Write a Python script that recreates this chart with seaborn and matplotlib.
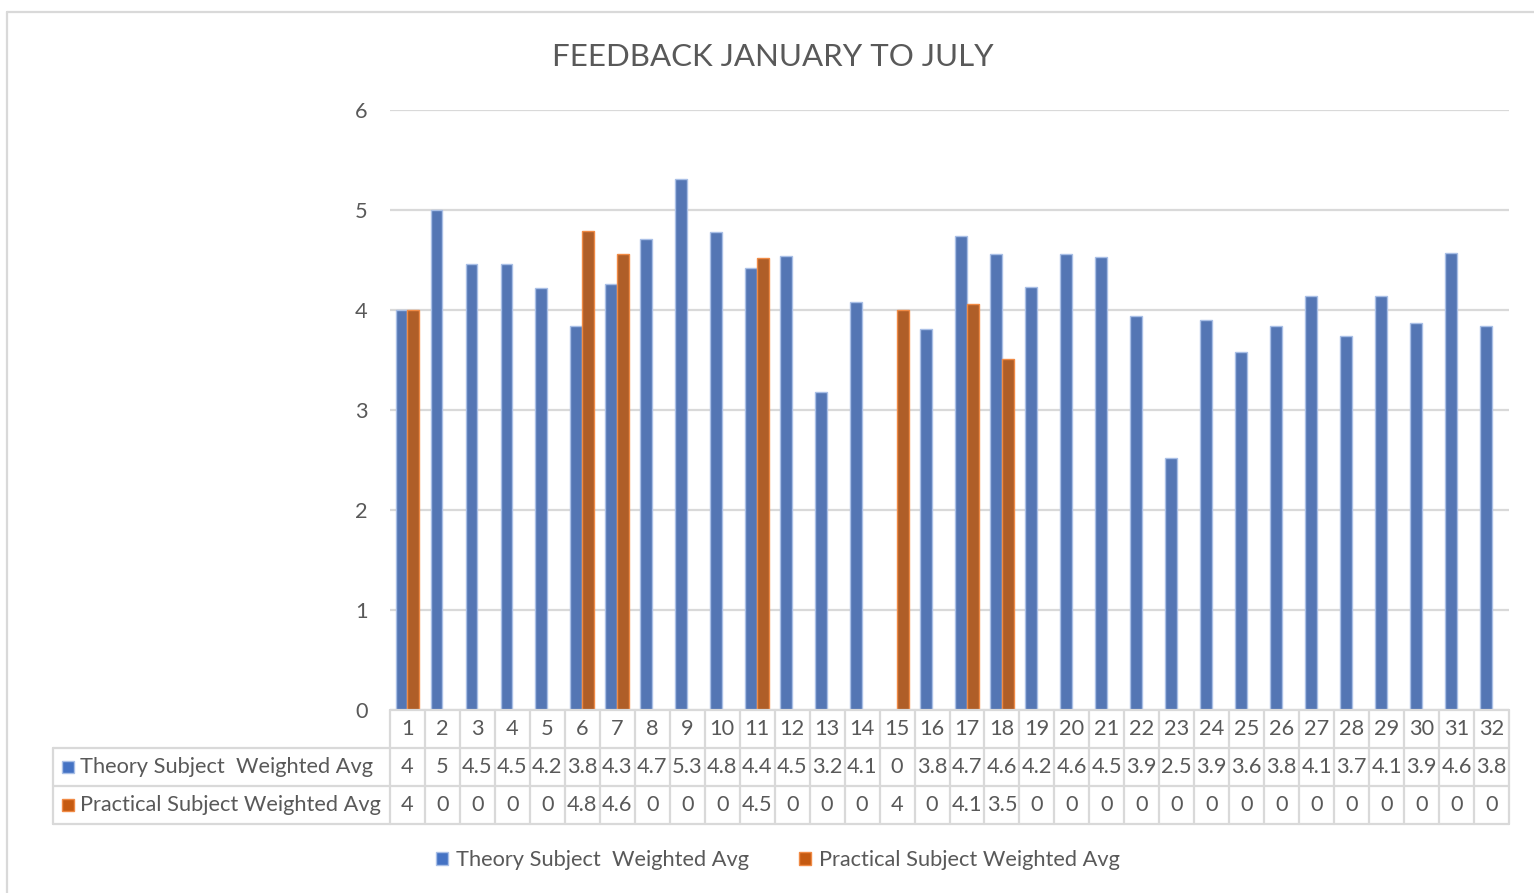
import matplotlib
matplotlib.use("Agg")
import numpy as np
import pandas as pd
import matplotlib.pyplot as plt
import matplotlib.transforms as mtransforms
from matplotlib.patches import Rectangle, Patch
from matplotlib.lines import Line2D
import seaborn as sns

# data
sessions = [str(i) for i in range(1, 33)]
theory_avg = [4.0, 5.0, 4.46, 4.46, 4.22, 3.84, 4.26, 4.71, 5.31, 4.78,
              4.42, 4.54, 3.18, 4.08, 0.0, 3.81, 4.74, 4.56, 4.23, 4.56,
              4.53, 3.94, 2.52, 3.90, 3.58, 3.84, 4.14, 3.74, 4.14, 3.87,
              4.57, 3.84]
practical_avg = [4.0, 0, 0, 0, 0, 4.79, 4.56, 0, 0, 0,
                 4.52, 0, 0, 0, 4.0, 0, 4.06, 3.51, 0, 0,
                 0, 0, 0, 0, 0, 0, 0, 0, 0, 0,
                 0, 0]
series_names = ["Theory Subject  Weighted Avg", "Practical Subject Weighted Avg"]
y_ticks = [0, 1, 2, 3, 4, 5, 6]
title = "FEEDBACK JANUARY TO JULY"

W, H = 1534, 893
TEXT = "#595959"
GRID = "#d9d9d9"
FS = 15.7
colors = ["#4472C4", "#C55A11"]
edges = ["#a9bfe6", "#f08a45"]

df = pd.DataFrame({
    "session": sessions * 2,
    "score": theory_avg + practical_avg,
    "series": [series_names[0]] * len(sessions) + [series_names[1]] * len(sessions),
})

sns.set_theme(style="white")
plt.rcParams["font.family"] = ["Lato", "DejaVu Sans"]

fig = plt.figure(figsize=(W / 100, H / 100), dpi=100)
ax = fig.add_axes([390 / W, 1 - 710 / H, (1509 - 390) / W, 600 / H])

sns.barplot(data=df, x="session", y="score", hue="series", order=sessions,
            hue_order=series_names, palette=colors, width=0.68,
            errorbar=None, legend=False, ax=ax)
for cont, ec in zip(ax.containers, edges):
    for bar in cont:
        bar.set_edgecolor(ec)
        bar.set_linewidth(1.0)

ax.set_xlim(-0.5, len(sessions) - 0.5)
ax.set_ylim(0, 6)
ax.set_yticks(y_ticks)
ax.set_xticks([])
ax.set_xlabel("")
ax.set_ylabel("")
ax.yaxis.grid(True, color=GRID, lw=1.6)
ax.set_axisbelow(True)
ax.tick_params(axis="y", length=0, pad=16, labelsize=FS, labelcolor=TEXT)
for s in ax.spines.values():
    s.set_visible(False)

# data table under the plot
tr = mtransforms.blended_transform_factory(ax.transData, fig.transFigure)
fy = lambda px: 1 - px / H
n = len(sessions)
lw = 1.6
for yp in [710, 748, 786, 824]:
    ax.add_line(Line2D([-0.5, n - 0.5], [fy(yp), fy(yp)], transform=tr,
                       color=GRID, lw=lw, clip_on=False))
for i in range(n + 1):
    ax.add_line(Line2D([i - 0.5, i - 0.5], [fy(710), fy(824)], transform=tr,
                       color=GRID, lw=lw, clip_on=False))
for yp in [748, 786, 824]:
    fig.add_artist(Line2D([53 / W, 390 / W], [fy(yp), fy(yp)], color=GRID, lw=lw))
fig.add_artist(Line2D([53 / W, 53 / W], [fy(748), fy(824)], color=GRID, lw=lw))

for i, lab in enumerate(sessions):
    ax.text(i, fy(729), lab, transform=tr, ha="center", va="center",
            fontsize=FS, color=TEXT)
    ax.text(i, fy(767), f"{round(theory_avg[i], 1):g}", transform=tr,
            ha="center", va="center", fontsize=FS, color=TEXT)
    ax.text(i, fy(805), f"{round(practical_avg[i], 1):g}", transform=tr,
            ha="center", va="center", fontsize=FS, color=TEXT)

for name, c, ec, yp in zip(series_names, colors, edges, [767, 805]):
    fig.add_artist(Rectangle((62 / W, fy(yp + 6)), 12 / W, 12 / H,
                             facecolor=c, edgecolor=ec, lw=1))
    fig.text(80 / W, fy(yp), name, ha="left", va="center", fontsize=FS, color=TEXT)

# legend
handles = [Patch(facecolor=c, edgecolor=ec) for c, ec in zip(colors, edges)]
fig.legend(handles, series_names, loc="center", bbox_to_anchor=(778 / W, fy(860)),
           ncol=2, frameon=False, fontsize=FS, labelcolor=TEXT,
           handlelength=0.55, handleheight=0.55, handletextpad=0.36,
           columnspacing=2.3)

fig.text(773 / W, fy(57), title, ha="center", va="center", fontsize=22.5, color=TEXT)

# chart area border (left and top visible)
fig.add_artist(Line2D([7 / W, 7 / W], [fy(12), 0], color=GRID, lw=1.6))
fig.add_artist(Line2D([7 / W, 1], [fy(12), fy(12)], color=GRID, lw=1.6))

fig.savefig("out.png", dpi=100)
